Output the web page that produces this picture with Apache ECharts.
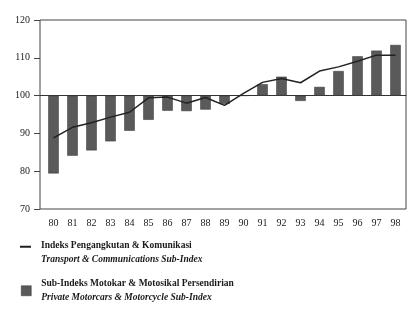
<!DOCTYPE html>
<html>
<head>
<meta charset="utf-8">
<script src="https://cdn.jsdelivr.net/npm/echarts@6/dist/echarts.min.js"></script>
<style>
html,body{margin:0;padding:0;background:#fff;}
#main{width:415px;height:310px;}
</style>
</head>
<body>
<div id="main"></div>
<script>
var years = ['80','81','82','83','84','85','86','87','88','89','90','91','92','93','94','95','96','97','98'];
//Indeks Pengangkutan & Komunikasi
var transportIndex = [88.8,91.6,92.8,94.3,95.6,99.4,99.6,98.0,99.5,97.4,100.6,103.5,104.5,103.4,106.5,107.6,109.1,110.7,110.7];
//Sub-Indeks Motokar & Motosikal Persendirian
var motorIndex = [79.4,84.1,85.5,87.9,90.7,93.6,96.0,95.9,96.3,97.8,100.0,103.0,105.0,98.6,102.3,106.5,110.4,111.9,113.4];
var base = 100;
var yMin = 70, yMax = 120, yStep = 10;

var lineName = 'Indeks Pengangkutan & Komunikasi';
var lineSub = 'Transport & Communications Sub-Index';
var barName = 'Sub-Indeks Motokar & Motosikal Persendirian';
var barSub = 'Private Motorcars & Motorcycle Sub-Index';

function fromBase(arr){
	return arr.map(function(v){ return +(v - base).toFixed(2); });
}

var serif = '"Liberation Serif", "DejaVu Serif", serif';

var legendText = {
	fontFamily: serif,
	padding: [0, 0, 0, 5],
	rich: {
		a: { fontFamily: serif, fontSize: 9.5, fontWeight: 'bold', color: '#1a1a1a', lineHeight: 13.5 },
		b: { fontFamily: serif, fontSize: 9.5, fontWeight: 'bold', fontStyle: 'italic', color: '#1a1a1a', lineHeight: 13.5 }
	}
};

var option = {
	backgroundColor: '#fff',
	animation: false,
	grid: [
		{ left: 44, right: 10, top: 20, bottom: 101 },
		//frame + garis 100
		{ left: 40, right: 9, top: 20, bottom: 101, show: true, borderColor: '#444', borderWidth: 1, backgroundColor: 'transparent' }
	],
	legend: [
		{
			data: [lineName],
			left: 15, top: 236,
			icon: 'path://M0,0H11V2H0Z M0,14H11',
			itemWidth: 11, itemHeight: 14,
			itemStyle: { color: '#222', borderWidth: 0 },
			textStyle: legendText,
			formatter: function(){ return '{a|' + lineName + '}\n{b|' + lineSub + '}'; },
			selectedMode: false
		},
		{
			data: [barName],
			left: 16, top: 274,
			icon: 'rect',
			itemWidth: 10, itemHeight: 10,
			itemStyle: { color: '#5a5a5a', borderColor: '#333', borderWidth: 0.5 },
			textStyle: legendText,
			formatter: function(){ return '{a|' + barName + '}\n{b|' + barSub + '}'; },
			selectedMode: false
		}
	],
	xAxis: [
		{
			type: 'category',
			data: years,
			gridIndex: 0,
			axisLine: { show: false, onZero: false },
			axisTick: { show: false },
			axisLabel: { margin: 9, fontFamily: serif, fontSize: 10, color: '#1a1a1a' }
		},
		{
			type: 'value', gridIndex: 1, min: 0, max: 1,
			axisLine: { show: true, onZero: true, lineStyle: { color: '#333', width: 1 } },
			axisTick: { show: false }, axisLabel: { show: false }, splitLine: { show: false }
		}
	],
	yAxis: [
		{
			type: 'value',
			gridIndex: 0,
			min: yMin - base,
			max: yMax - base,
			interval: yStep,
			offset: 4,
			axisLine: { show: false },
			axisTick: { show: true, inside: false, length: 6, lineStyle: { color: '#444' } },
			splitLine: { show: false },
			axisLabel: {
				margin: 10,
				fontFamily: serif, fontSize: 10, color: '#1a1a1a',
				formatter: function(v){ return v + base; }
			}
		},
		{
			type: 'value', gridIndex: 1, min: yMin - base, max: yMax - base,
			axisLine: { show: false }, axisTick: { show: false }, axisLabel: { show: false }, splitLine: { show: false }
		}
	],
	series: [
		{
			name: barName,
			type: 'bar',
			xAxisIndex: 0, yAxisIndex: 0,
			barWidth: 10.5,
			data: fromBase(motorIndex),
			itemStyle: { color: '#5a5a5a', borderColor: '#333', borderWidth: 0.5 },
			z: 2
		},
		{
			name: lineName,
			type: 'line',
			xAxisIndex: 0, yAxisIndex: 0,
			data: fromBase(transportIndex),
			showSymbol: false,
			symbol: 'none',
			lineStyle: { color: '#222', width: 1.5 },
			itemStyle: { color: '#222' },
			z: 3
		}
	]
};

var myChart = echarts.init(document.getElementById('main'));
myChart.setOption(option);
</script>
</body>
</html>
